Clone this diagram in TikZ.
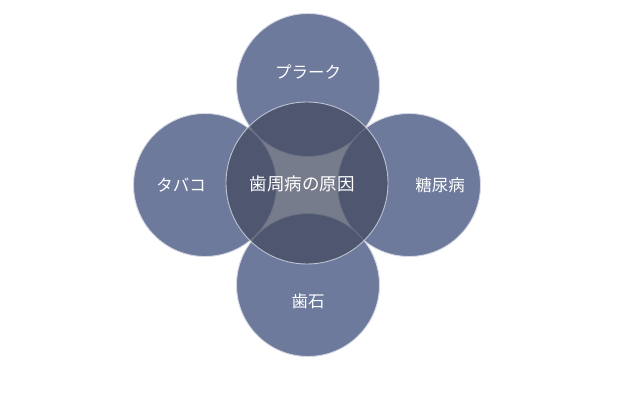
\documentclass[tikz,border=0pt]{standalone}
\usepackage{fontspec}
\setmainfont{Noto Sans CJK JP}
\usepackage{tikz}
\usetikzlibrary{positioning, calc}

\definecolor{outerblue}{HTML}{6D7A9C}
\definecolor{innerdark}{HTML}{434A5F}
\definecolor{rimlight}{HTML}{D5D9E4}

\begin{document}
\begin{tikzpicture}[
    x=1pt, y=-1pt,
    every node/.style={font=\fontsize{16.5}{18}\selectfont, text=white},
    cause/.style={circle, draw=rimlight, line width=0.9pt, fill=outerblue, minimum size=143pt, inner sep=0pt},
    core/.style={circle, draw=rimlight, draw opacity=0.8, line width=0.9pt, fill=innerdark, fill opacity=0.72, minimum size=162pt, inner sep=0pt},
    txt/.style={inner sep=0pt}
]
\useasboundingbox (0,0) rectangle (637,406);

% Ursachen (aussen)
\node[cause] (plaque) at (308,85) {};
\node[cause] (tabako) at (205,185) {};
\node[cause] (tounyou) at (409,185) {};
\node[cause] (shiseki) at (308,285) {};

% Mitte
\node[core] (gen) at (307,183) {};

% Beschriftungen
\node[txt] (lplaque) at ($(plaque.center)+(0,-13)$) {プラーク};
\node[txt] (ltabako) at ($(tabako.center)+(-24,0)$) {タバコ};
\node[txt] (ltounyou) at ($(tounyou.center)+(31,0)$) {糖尿病};
\node[txt] (lshiseki) at ($(shiseki.center)+(0,16)$) {歯石};
\node[txt, font=\fontsize{17.5}{19}\selectfont] (lgen) at ($(gen.center)+(-5,1)$) {歯周病の原因};

\end{tikzpicture}
\end{document}
